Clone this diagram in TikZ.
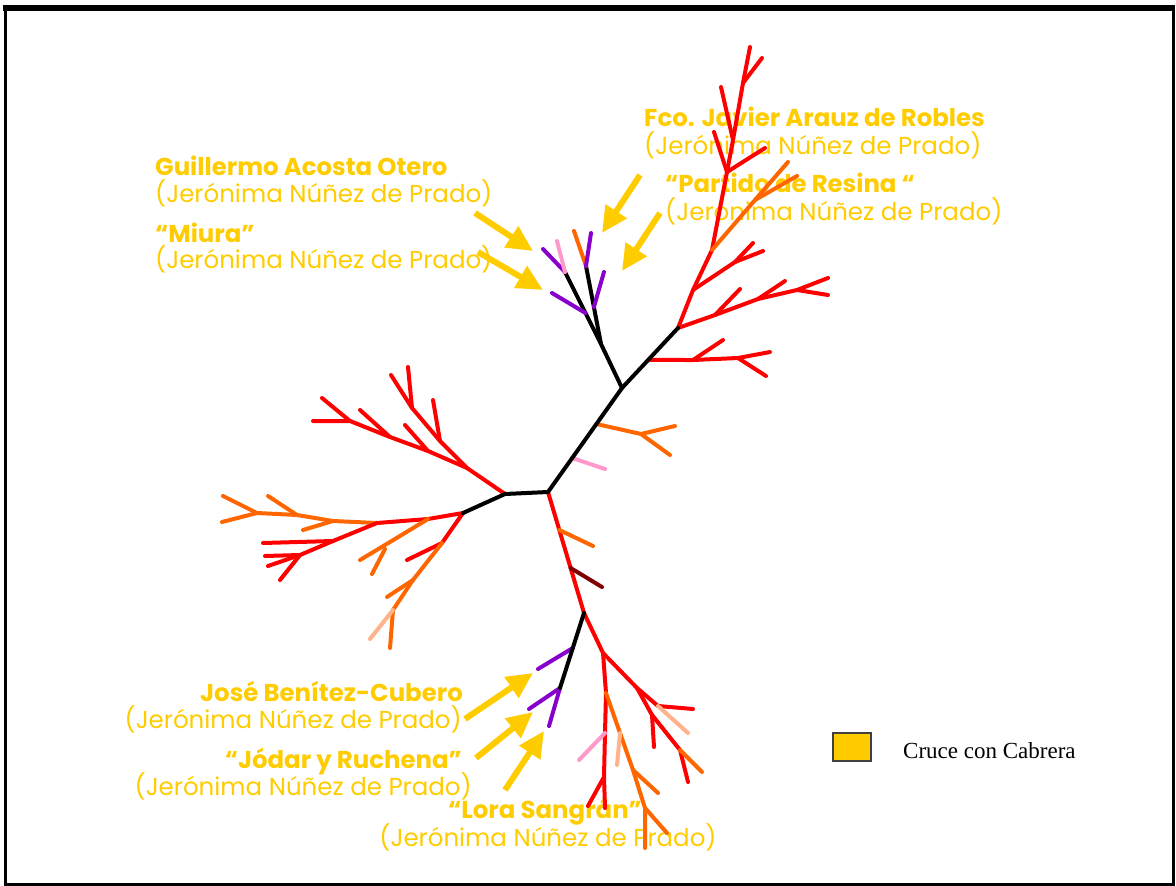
\documentclass[tikz,border=0pt]{standalone}
\usepackage{fontspec}
\newfontfamily\pop{Poppins}
\newfontfamily\tms{Liberation Serif}
\usetikzlibrary{arrows.meta,calc}
\definecolor{gold}{HTML}{FFCC00}
\definecolor{orng}{HTML}{FF6600}
\definecolor{purp}{HTML}{8800CC}
\definecolor{pnk}{HTML}{FF99CC}
\definecolor{dred}{HTML}{800000}
\definecolor{porng}{HTML}{FFB38A}
\begin{document}
\begin{tikzpicture}[x=1pt,y=-1pt,
  t/.style={line width=4pt, line cap=round, line join=round},
  bk/.style={t, black}, rd/.style={t, red}, og/.style={t, orng}, pu/.style={t, purp},
  pk/.style={t, pnk}, dr/.style={t, dred}, po/.style={t, porng},
  ar/.style={draw=gold, line width=6pt, -{Triangle[length=26pt,width=24pt]}},
  nm/.style={font=\pop\bfseries\fontsize{24.4}{28}\selectfont, text=gold, inner sep=0pt},
  lt/.style={font=\pop\fontsize{24.5}{28}\selectfont, text=gold, inner sep=0pt}]
\useasboundingbox (0,0) rectangle (1176,886);
\fill[white] (0,0) rectangle (1176,886);
% frame
\draw[line width=3pt] (5,9) rectangle (1173,884);
\draw[line width=6pt] (3,8) -- (1175,8);

% labels
\node[nm, anchor=base west] (g1) at (155,175) {Guillermo Acosta Otero};
\node[lt, anchor=base west] (g2) at (155,202) {(Jerónima Núñez de Prado)};
\node[nm, anchor=base west] (m1) at (155,242) {“Miura”};
\node[lt, anchor=base west] (m2) at (155,268) {(Jerónima Núñez de Prado)};
\node[nm, anchor=base west] (f1) at (644,126) {Fco. Javier Arauz de Robles};
\node[lt, anchor=base west] (f2) at (644,154) {(Jerónima Núñez de Prado)};
\node[nm, anchor=base west] (p1) at (665,192) {“Partido de Resina “};
\node[lt, anchor=base west] (p2) at (665,220) {(Jerónima Núñez de Prado)};
\node[nm, anchor=base east] (j1) at (463,701) {José Benítez-Cubero};
\node[lt, anchor=base east] (j2) at (462,728) {(Jerónima Núñez de Prado)};
\node[nm, anchor=base east] (o1) at (462,768) {“Jódar y Ruchena”};
\node[lt, anchor=base east] (o2) at (472,795) {(Jerónima Núñez de Prado)};
\node[nm, anchor=base] (s1) at (545,818) {“Lora Sangrán”};
\node[lt, anchor=base] (s2) at (548,846) {(Jerónima Núñez de Prado)};

% legend
\node[draw=black!75, fill=gold, line width=1.2pt, minimum width=38pt, minimum height=28pt, inner sep=0pt] (lg) at (852,747) {};
\node[font=\tms\fontsize{23}{27}\selectfont, anchor=base west, inner sep=0pt] (lgt) at (903,758) {Cruce con Cabrera};

% ---------- spine coordinates
\coordinate (c1) at (548,492);
\coordinate (c2) at (505,494);
\coordinate (l0) at (463,513);
\coordinate (u0) at (622,388);
\coordinate (v0) at (678,328);
\coordinate (w0) at (601,344);
\coordinate (wx) at (565,272);
\coordinate (wy) at (586,266);
\coordinate (d0) at (584,613);
\coordinate (e0) at (560,688);

% ---------- upper-left red subtree
\coordinate (a1) at (467,468); \coordinate (a2) at (440,441); \coordinate (a3) at (412,408);
\coordinate (a3t) at (408,367); \coordinate (a3u) at (391,375); \coordinate (a2t) at (433,400);
\coordinate (q1) at (428,451); \coordinate (q2) at (390,437); \coordinate (q3) at (350,421);
\coordinate (q3t) at (313,421); \coordinate (q1t) at (405,425); \coordinate (q2t) at (360,410); \coordinate (q3u) at (322,398);
\draw[rd] (c2) -- (a1) -- (a2) -- (a3) -- (a3t);
\draw[rd] (a3) -- (a3u);
\draw[rd] (a2) -- (a2t);
\draw[rd] (a1) -- (q1) -- (q2) -- (q3) -- (q3t);
\draw[rd] (q1) -- (q1t);
\draw[rd] (q2) -- (q2t);
\draw[rd] (q3) -- (q3u);

% ---------- left subtree
\coordinate (b1) at (428,519); \coordinate (b2) at (377,523);
\coordinate (b3) at (333,521); \coordinate (b4) at (297,515); \coordinate (b5) at (257,513); \coordinate (b6) at (222,522);
\coordinate (b3t) at (303,530); \coordinate (b4t) at (268,496); \coordinate (b5t) at (223,496);
\draw[rd] (l0) -- (b1) -- (b2);
\draw[og] (b2) -- (b3) -- (b4) -- (b5) -- (b6);
\draw[og] (b3) -- (b3t);
\draw[og] (b4) -- (b4t);
\draw[og] (b5) -- (b5t);
\coordinate (h1) at (333,541); \coordinate (h2) at (300,555); \coordinate (h3) at (268,566);
\coordinate (h1t) at (263,543); \coordinate (h2t) at (265,556); \coordinate (h2u) at (280,580);
\draw[rd] (b2) -- (h1) -- (h2) -- (h3);
\draw[rd] (h1) -- (h1t);
\draw[rd] (h2) -- (h2t);
\draw[rd] (h2) -- (h2u);
\coordinate (k1) at (390,542); \coordinate (k2) at (360,560); \coordinate (k3) at (385,549); \coordinate (k3t) at (372,574);
\draw[og] (b1) -- (k1) -- (k2);
\draw[og] (k3) -- (k3t);
\coordinate (n1) at (442,543); \coordinate (n1t) at (407,560);
\coordinate (n2) at (413,580); \coordinate (n3) at (393,610); \coordinate (n4) at (390,648);
\coordinate (n2t) at (387,597); \coordinate (n3t) at (370,639);
\draw[rd] (l0) -- (n1) -- (n1t);
\draw[og] (n1) -- (n2) -- (n3) -- (n4);
\draw[og] (n2) -- (n2t);
\draw[po] (n3) -- (n3t);

% ---------- lower subtree
\coordinate (s1a) at ($(c1)!0.314!(d0)$); \coordinate (s1b) at (593,546);
\coordinate (s2a) at ($(c1)!0.628!(d0)$); \coordinate (s2b) at (602,587);
\draw[rd] (c1) -- (d0);
\draw[og] (s1a) -- (s1b);
\draw[dr] (s2a) -- (s2b);
\coordinate (pa) at ($(d0)!0.467!(e0)$);
\coordinate (pat) at (538,669); \coordinate (pe1) at (529,709); \coordinate (pe2) at (549,726);
\draw[pu] (pa) -- (pat);
\draw[pu] (e0) -- (pe1);
\draw[pu] (e0) -- (pe2);
\coordinate (f0) at (603,653); \coordinate (g0) at (606,693); \coordinate (h0) at (605,733);
\coordinate (i0) at (604,777); \coordinate (i0t) at (605,808); \coordinate (i0u) at (588,806);
\coordinate (h0t) at (579,760);
\draw[rd] (d0) -- (f0) -- (g0) -- (h0) -- (i0) -- (i0t);
\draw[rd] (i0) -- (i0u);
\draw[pk] (h0) -- (h0t);
\coordinate (jj) at (633,770); \coordinate (kk) at (645,808); \coordinate (kkt) at (645,848);
\coordinate (jjt) at (658,793); \coordinate (kku) at (667,833);
\coordinate (gp) at ($(g0)!0.52!(jj)$); \coordinate (gpt) at (617,765);
\draw[og] (g0) -- (jj) -- (kk) -- (kkt);
\draw[og] (jj) -- (jjt);
\draw[og] (kk) -- (kku);
\draw[po] (gp) -- (gpt);
\coordinate (mm) at (637,688); \coordinate (nn) at (658,706); \coordinate (nnt) at (693,709); \coordinate (nnu) at (688,733);
\coordinate (oo) at (652,715); \coordinate (oot) at (654,747); \coordinate (rr) at (680,750); \coordinate (rrt) at (688,782); \coordinate (rru) at (702,772);
\draw[rd] (f0) -- (mm) -- (nn) -- (nnt);
\draw[po] (nn) -- (nnu);
\draw[rd] (mm) -- (oo) -- (rr) -- (rrt);
\draw[rd] (oo) -- (oot);
\draw[og] (rr) -- (rru);

% ---------- upper-right subtree
\coordinate (x1) at ($(c1)!0.654!(u0)$); \coordinate (x1a) at (641,434); \coordinate (x1b) at (675,426); \coordinate (x1c) at (670,455);
\coordinate (x2) at ($(c1)!0.327!(u0)$); \coordinate (x2a) at (605,469);
\draw[og] (x1) -- (x1a) -- (x1b);
\draw[og] (x1a) -- (x1c);
\draw[pk] (x2) -- (x2a);
\coordinate (y1) at ($(u0)!0.467!(v0)$); \coordinate (y2) at (693,360); \coordinate (y3) at (738,358); \coordinate (y4) at (770,352);
\coordinate (y2t) at (723,340); \coordinate (y3t) at (766,376);
\draw[rd] (y1) -- (y2) -- (y3) -- (y4);
\draw[rd] (y2) -- (y2t);
\draw[rd] (y3) -- (y3t);
\coordinate (z1) at (715,315); \coordinate (z2) at (758,299); \coordinate (z3) at (797,290); \coordinate (z4) at (828,278);
\coordinate (z1t) at (740,289); \coordinate (z2t) at (785,281); \coordinate (z3t) at (828,295);
\draw[rd] (v0) -- (z1) -- (z2) -- (z3) -- (z4);
\draw[rd] (z1) -- (z1t);
\draw[rd] (z2) -- (z2t);
\draw[rd] (z3) -- (z3t);
\coordinate (r1) at (693,290); \coordinate (r2) at (712,250); \coordinate (r3) at (727,172);
\coordinate (r4) at (733,140); \coordinate (r5) at (743,83); \coordinate (r6) at (750,47);
\coordinate (r1a) at (735,262); \coordinate (r1t) at (753,243); \coordinate (r1u) at (763,251);
\draw[rd] (v0) -- (r1) -- (r2) -- (r3) -- (r4) -- (r5) -- (r6);
\draw[rd] (r1) -- (r1a) -- (r1t);
\draw[rd] (r1a) -- (r1u);
\draw[rd] (r5) -- (762,58);
\coordinate (r3a) at (714,132); \coordinate (r3b) at (765,148); \coordinate (r4a) at (721,87);
\draw[rd] (r3) -- (r3a);
\draw[rd] (r3) -- (r3b);
\draw[rd] (r4) -- (r4a);
\coordinate (o1a) at (755,200); \coordinate (o1t) at (788,162); \coordinate (o1u) at (797,176);
\draw[og] (r2) -- (o1a) -- (o1t);
\draw[og] (o1a) -- (o1u);

% ---------- black spine
\draw[bk] (c1) -- (c2) -- (l0);
\draw[bk] (c1) -- (u0) -- (v0);
\draw[bk] (u0) -- (w0) -- (wx);
\draw[bk] (w0) -- (wy);
\draw[bk] (d0) -- (e0);

% top cluster
\coordinate (wxa) at ($(w0)!0.43!(wx)$); \coordinate (wxat) at (552,293);
\coordinate (wya) at ($(w0)!0.474!(wy)$); \coordinate (wyat) at (604,272);
\draw[pu] (wxa) -- (wxat);
\draw[pu] (wya) -- (wyat);
\draw[pu] (wx) -- (543,249);
\draw[pk] (wx) -- (557,241);
\draw[og] (wy) -- (574,231);
\draw[pu] (wy) -- (591,233);

% ---------- arrows
\coordinate (aa1) at (475,213); \coordinate (ab1) at (533,251);
\coordinate (aa2) at (478,252); \coordinate (ab2) at (543,290);
\coordinate (aa3) at (640,175); \coordinate (ab3) at (602,233);
\coordinate (aa4) at (660,213); \coordinate (ab4) at (622,271);
\coordinate (aa5) at (465,719); \coordinate (ab5) at (533,673);
\coordinate (aa6) at (476,758); \coordinate (ab6) at (533,712);
\coordinate (aa7) at (505,790); \coordinate (ab7) at (544,731);
\foreach \i in {1,...,7} {\draw[ar] (aa\i) -- (ab\i);}
\end{tikzpicture}
\end{document}
